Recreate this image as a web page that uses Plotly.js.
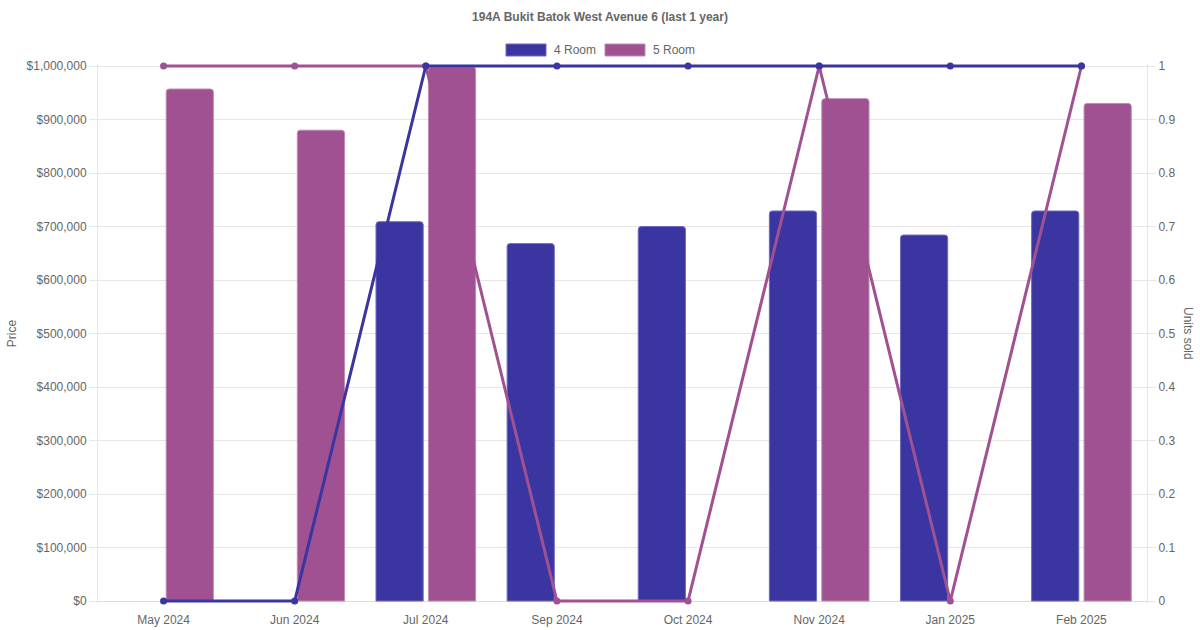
<!DOCTYPE html>
<html>
<head>
<meta charset="utf-8">
<script src="https://cdn.plot.ly/plotly-3.0.1.min.js"></script>
<style>
  html, body { margin: 0; padding: 0; background: #fff; }
  #chart { width: 1200px; height: 630px; }
</style>
</head>
<body>
<div id="chart"></div>
<script>
// 194A Bukit Batok West Avenue 6 — price (bars, left) and units sold (lines, right)

// ── Data ──────────────────────────────────────────────────────────────────────
const months  = ['May 2024', 'Jun 2024', 'Jul 2024', 'Sep 2024',
                 'Oct 2024', 'Nov 2024', 'Jan 2025', 'Feb 2025'];
const price4  = [null, null, 709000, 668000, 700000, 729000, 684000, 729000];
const price5  = [957000, 880000, 998000, null, null, 939000, null, 930000];
const units4  = [0, 0, 1, 1, 1, 1, 1, 1];
const units5  = [1, 1, 1, 0, 0, 1, 0, 1];
const seriesNames = ['4 Room', '5 Room'];

// ── Style ─────────────────────────────────────────────────────────────────────
const C4 = '#3a35a0', C4edge = '#6f6bc0';
const C5 = '#a05192', C5edge = '#c08ab6';
const FONT = 'Liberation Sans, Arial, Helvetica, sans-serif';
const GRID = '#e6e6e6';

// Plot area is padded a couple of px so lines at 0 and 1 are not clipped
const AREA_TOP = 66, AREA_BOT = 601, PAD = 2;
const span = AREA_BOT - AREA_TOP;
const padFrac = PAD / span;

const barTrace = (name, y, fill, edge) => ({
  type: 'bar', name, x: months, y, yaxis: 'y',
  marker: { color: fill, line: { color: edge, width: 1 } },
  showlegend: false,
  hovertemplate: '%{x}<br>' + name + ': %{y:$,.0f}<extra></extra>',
});

const lineTrace = (name, y, color) => ({
  type: 'scatter', mode: 'lines+markers', name, x: months, y, yaxis: 'y2',
  line: { color, width: 3 },
  marker: { color, size: 7 },
  cliponaxis: false,
  showlegend: false,
  hovertemplate: '%{x}<br>' + name + ' units: %{y}<extra></extra>',
});

// 5 Room line first so the 4 Room line sits on top
const traces = [
  barTrace(seriesNames[0], price4, C4, C4edge),
  barTrace(seriesNames[1], price5, C5, C5edge),
  lineTrace(seriesNames[1], units5, C5),
  lineTrace(seriesNames[0], units4, C4),
];

// ── Legend (Chart.js-style wide boxes) ────────────────────────────────────────
const plotH = span + 2 * PAD;
const pyFrac = py => (AREA_BOT + PAD - py) / plotH;
const pxFrac = px => (px - 98) / 1049;

const legendItems = [
  { label: seriesNames[0], fill: C4, edge: C4edge, x0: 506 },
  { label: seriesNames[1], fill: C5, edge: C5edge, x0: 605 },
];
const legendShapes = legendItems.map(it => ({
  type: 'rect', xref: 'paper', yref: 'paper',
  x0: pxFrac(it.x0), x1: pxFrac(it.x0 + 40),
  y0: pyFrac(56), y1: pyFrac(44),
  fillcolor: it.fill, line: { color: it.edge, width: 1 },
}));
const legendLabels = legendItems.map(it => ({
  xref: 'paper', yref: 'paper',
  x: pxFrac(it.x0 + 46), y: pyFrac(50),
  xanchor: 'left', yanchor: 'middle', showarrow: false,
  text: it.label, font: { family: FONT, size: 12, color: '#666' },
}));

const layout = {
  width: 1200, height: 630,
  margin: { l: 98, r: 53, t: AREA_TOP - PAD, b: 630 - AREA_BOT - PAD },
  paper_bgcolor: '#fff', plot_bgcolor: '#fff',
  font: { family: FONT, size: 12, color: '#666' },
  title: {
    text: '194A Bukit Batok West Avenue 6 (last 1 year)',
    font: { family: FONT, size: 12, color: '#666', weight: 'bold' },
    x: 0.5, xanchor: 'center', y: 1 - 17 / 630, yanchor: 'middle',
  },
  barmode: 'group', bargap: 0.2, bargroupgap: 0.1, barcornerradius: 3,
  showlegend: false,
  xaxis: {
    type: 'category', range: [-0.5, months.length - 0.5],
    showgrid: false, showline: false,
    ticks: '', ticklabelstandoff: 8,
    tickfont: { family: FONT, size: 12, color: '#666' },
    fixedrange: true,
  },
  yaxis: {
    range: [-1000000 * padFrac, 1000000 * (1 + padFrac)],
    tick0: 0, dtick: 100000, tickformat: '$,.0f',
    showgrid: true, gridcolor: GRID, gridwidth: 1,
    zeroline: true, zerolinecolor: '#dcdcdc', zerolinewidth: 1,
    showline: true, linecolor: GRID, linewidth: 1,
    ticks: 'outside', ticklen: 8, tickcolor: GRID,
    tickfont: { family: FONT, size: 12, color: '#666' },
    title: { text: 'Price', font: { family: FONT, size: 12, color: '#666' }, standoff: 7 },
    fixedrange: true,
  },
  yaxis2: {
    overlaying: 'y', side: 'right',
    range: [-padFrac, 1 + padFrac], tick0: 0, dtick: 0.1,
    showgrid: false, zeroline: false,
    showline: true, linecolor: GRID, linewidth: 1,
    ticks: 'outside', ticklen: 8, tickcolor: GRID,
    tickfont: { family: FONT, size: 12, color: '#666' },
    fixedrange: true,
  },
  shapes: legendShapes,
  annotations: [
    ...legendLabels,
    {
      xref: 'paper', yref: 'paper', x: pxFrac(1188), y: pyFrac(333),
      xanchor: 'center', yanchor: 'middle', showarrow: false, textangle: 90,
      text: 'Units sold', font: { family: FONT, size: 12, color: '#666' },
    },
  ],
};

Plotly.newPlot('chart', traces, layout, { displayModeBar: false, staticPlot: true });
</script>
</body>
</html>
